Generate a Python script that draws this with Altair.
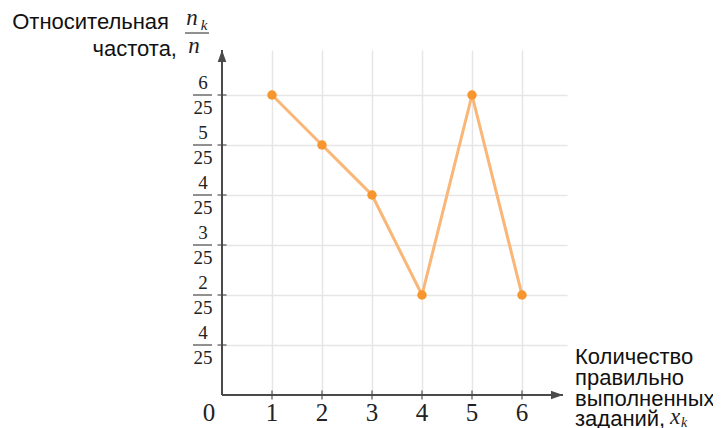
import altair as alt
import pandas as pd

# ---- data ----
x_vals = [1, 2, 3, 4, 5, 6]
freq_num = [6, 5, 4, 2, 6, 2]          # numerators of n_k / n
denom = 25
ytick_pos = [6, 5, 4, 3, 2, 1]          # tick positions (k/25)
ytick_num = ["6", "5", "4", "3", "2", "4"]  # numerators as printed
ytick_den = ["25"] * 6
xtick_labels = ["1", "2", "3", "4", "5", "6"]
y_title_1 = "Относительная"
y_title_2 = "частота,"
x_title_lines = ["Количество", "правильно", "выполненных", "заданий,"]

XMAX = 6.9
YMAX = 6.9 / denom
XTIP = 6.82

df = pd.DataFrame({"x": x_vals, "y": [v / denom for v in freq_num]})
yt = pd.DataFrame({"y": [v / denom for v in ytick_pos], "num": ytick_num, "den": ytick_den})
xt = pd.DataFrame({"x": x_vals, "lab": xtick_labels})

xs = alt.Scale(domain=[0, XMAX], nice=False, zero=False)
ys = alt.Scale(domain=[0, YMAX], nice=False, zero=False)
AX = alt.Axis(grid=True, values=x_vals, labels=False, ticks=False, domain=False, title=None,
              gridColor="#e6e6e6", gridWidth=1.5)
AY = alt.Axis(grid=True, values=[v / denom for v in ytick_pos], labels=False, ticks=False,
              domain=False, title=None, gridColor="#e6e6e6", gridWidth=1.5)

def X(f="x"):
    return alt.X(f, type="quantitative", scale=xs, axis=AX)

def Y(f="y"):
    return alt.Y(f, type="quantitative", scale=ys, axis=AY)

def DX(v):
    return alt.X(datum=v, type="quantitative", scale=xs, axis=AX)

def DY(v):
    return alt.Y(datum=v, type="quantitative", scale=ys, axis=AY)

AXC = "#4a4a4a"
TXT = "#222222"
SERIF = "Liberation Serif"
SANS = "Liberation Sans"
TFS = 22

layers = []

# axis lines
axes_df = pd.DataFrame({"x": [0, 0], "y": [0, 0], "x2": [XTIP, 0], "y2": [0, YMAX]})
layers.append(alt.Chart(axes_df).mark_rule(color=AXC, strokeWidth=2).encode(
    x=X(), y=Y(), x2="x2:Q", y2="y2:Q"))

# arrowheads
arrow = "M0,0L0.36,1L-0.36,1Z"
layers.append(alt.Chart(pd.DataFrame({"x": [0], "y": [YMAX]})).mark_point(
    shape=arrow, size=576, filled=True, color=AXC, opacity=1).encode(x=X(), y=Y()))
layers.append(alt.Chart(pd.DataFrame({"x": [XTIP], "y": [0]})).mark_point(
    shape=arrow, size=576, filled=True, color=AXC, opacity=1, angle=90).encode(x=X(), y=Y()))

# tick marks
layers.append(alt.Chart(xt).mark_tick(orient="vertical", size=9, thickness=1.6, color=AXC).encode(
    x=X(), y=DY(0)))
layers.append(alt.Chart(yt).mark_tick(orient="horizontal", size=9, thickness=1.6, color=AXC).encode(
    x=DX(0), y=Y()))

# x tick labels
layers.append(alt.Chart(xt).mark_text(font=SERIF, fontSize=25, color=TXT, dy=18, baseline="middle").encode(
    x=X(), y=DY(0), text="lab:N"))
layers.append(alt.Chart(pd.DataFrame({"x": [0], "y": [0], "t": ["0"]})).mark_text(
    font=SERIF, fontSize=25, color=TXT, dx=-13, dy=18, baseline="middle").encode(
    x=X(), y=Y(), text="t:N"))

# y fraction labels
layers.append(alt.Chart(yt).mark_text(font=SERIF, fontSize=19, color=TXT, dx=-19, dy=-12, baseline="middle").encode(
    x=DX(0), y=Y(), text="num:N"))
layers.append(alt.Chart(yt).mark_text(font=SERIF, fontSize=19, color=TXT, dx=-19, dy=13, baseline="middle").encode(
    x=DX(0), y=Y(), text="den:N"))
layers.append(alt.Chart(yt).mark_rule(color=TXT, strokeWidth=1, xOffset=-29, x2Offset=-10).encode(
    x=DX(0), x2=alt.X2(datum=0), y=Y()))

# y title
top = pd.DataFrame({"x": [0], "y": [YMAX]})
layers.append(alt.Chart(top).mark_text(text=y_title_1, font=SANS, fontSize=TFS, color="#111", align="right",
                                       baseline="middle", dx=-53, dy=-28).encode(x=X(), y=Y()))
layers.append(alt.Chart(top).mark_text(text=y_title_2, font=SANS, fontSize=TFS, color="#111", align="right",
                                       baseline="middle", dx=-45, dy=-1).encode(x=X(), y=Y()))
layers.append(alt.Chart(top).mark_text(text="n", font=SERIF, fontStyle="italic", fontSize=23, color=TXT,
                                       baseline="middle", dx=-30, dy=-32).encode(x=X(), y=Y()))
layers.append(alt.Chart(top).mark_text(text="k", font=SERIF, fontStyle="italic", fontSize=15, color=TXT,
                                       baseline="middle", dx=-18, dy=-25).encode(x=X(), y=Y()))
layers.append(alt.Chart(top).mark_rule(color=TXT, strokeWidth=1, xOffset=-37, x2Offset=-13, yOffset=-17,
                                       y2Offset=-17).encode(x=X(), x2=alt.X2(datum=0), y=Y()))
layers.append(alt.Chart(top).mark_text(text="n", font=SERIF, fontStyle="italic", fontSize=23, color=TXT,
                                       baseline="middle", dx=-28, dy=-4).encode(x=X(), y=Y()))

# x title
right = pd.DataFrame({"x": [XMAX], "y": [0]})
for i, (line, off) in enumerate(zip(x_title_lines, [-38, -17, 4, 24])):
    layers.append(alt.Chart(right).mark_text(text=line, font=SANS, fontSize=TFS, color="#111", align="left",
                                             baseline="middle", dx=8, dy=off).encode(x=X(), y=Y()))
layers.append(alt.Chart(right).mark_text(text="x", font=SERIF, fontStyle="italic", fontSize=23, color=TXT,
                                         align="left", baseline="middle", dx=103, dy=22).encode(x=X(), y=Y()))
layers.append(alt.Chart(right).mark_text(text="k", font=SERIF, fontStyle="italic", fontSize=14, color=TXT,
                                         align="left", baseline="middle", dx=114, dy=28).encode(x=X(), y=Y()))

# data line and points
layers.append(alt.Chart(df).mark_line(color="#f9b676", strokeWidth=3).encode(x=X(), y=Y()))
layers.append(alt.Chart(df).mark_point(filled=True, color="#f7962e", size=90, opacity=1).encode(x=X(), y=Y()))

chart = alt.layer(*layers).properties(
    width=345, height=345,
    autosize=alt.AutoSizeParams(type="none"),
    padding={"left": 214, "top": 42, "right": 146, "bottom": 33},
    background="white",
).configure_view(stroke=None)

chart.save("out.html", embed_options={"renderer": "svg", "actions": False})
